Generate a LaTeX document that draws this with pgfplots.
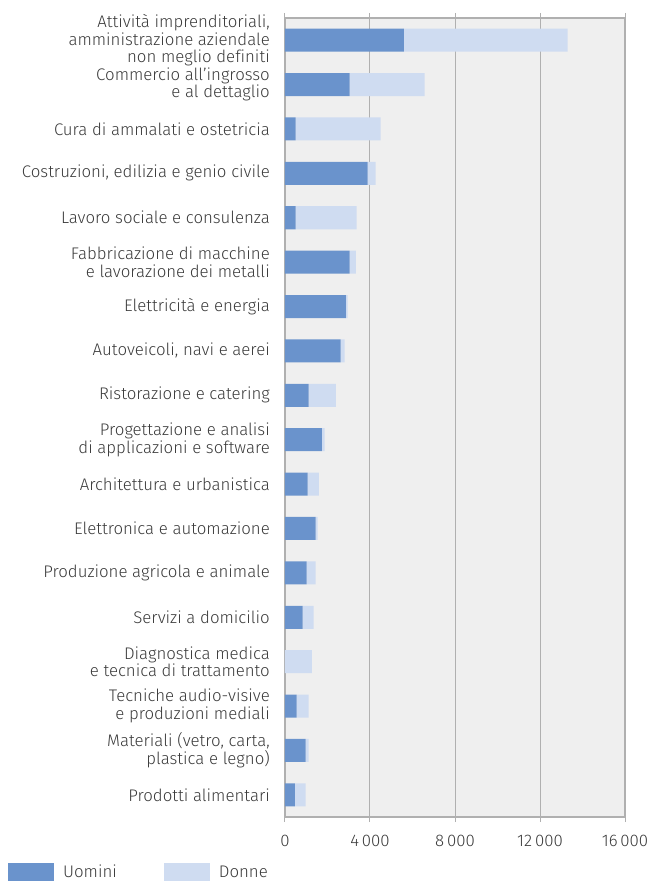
\documentclass[border=0pt]{standalone}
\usepackage{fontspec}
\setmainfont{Fira Sans Light}[Ligatures={NoCommon}]
\usepackage{pgfplots}
\pgfplotsset{compat=1.18}
\definecolor{uom}{HTML}{6A93CC}
\definecolor{don}{HTML}{CFDCF1}
\definecolor{bg}{HTML}{EFEFEF}
\definecolor{gridc}{HTML}{B0B0B0}
\definecolor{txt}{HTML}{3A3A3A}
\begin{document}
\begin{tikzpicture}
\begin{axis}[
  scale only axis, width=340pt, height=799pt,
  xbar stacked, bar width=23pt,
  xmin=0, xmax=16000, ymin=-0.5, ymax=17.5, y dir=reverse,
  xtick={0,4000,8000,12000,16000},
  ytick={0,...,17},
  yticklabels={
    {Attività imprenditoriali,\\amministrazione aziendale\\non meglio definiti},
    {Commercio all'ingrosso\\e al dettaglio},
    {Cura di ammalati e ostetricia},
    {Costruzioni, edilizia e genio civile},
    {Lavoro sociale e consulenza},
    {Fabbricazione di macchine\\e lavorazione dei metalli},
    {Elettricità e energia},
    {Autoveicoli, navi e aerei},
    {Ristorazione e catering},
    {Progettazione e analisi\\di applicazioni e software},
    {Architettura e urbanistica},
    {Elettronica e automazione},
    {Produzione agricola e animale},
    {Servizi a domicilio},
    {Diagnostica medica\\e tecnica di trattamento},
    {Tecniche audio-visive\\e produzioni mediali},
    {Materiali (vetro, carta,\\plastica e legno)},
    {Prodotti alimentari}},
  xmajorgrids, grid style={gridc, line width=1pt},
  axis line style={gridc, line width=1.2pt},
  axis background/.style={fill=bg},
  tick align=outside, major tick length=5pt,
  xtick style={gridc, line width=1pt},
  ytick style={draw=none},
  ticklabel style={font=\fontsize{16.8}{17.5}\selectfont, text=txt},
  xticklabel style={/pgf/number format/1000 sep={\,}, /pgf/number format/assume math mode=true, yshift=-10pt},
  yticklabel style={align=right, inner sep=0pt, xshift=-10pt},
  scaled x ticks=false,
  legend style={at={(axis description cs:-0.8147,-0.0575)}, anchor=north west,
    draw=none, fill=none, inner sep=0pt, font=\fontsize{16.8}{17.5}\selectfont, text=txt,
    legend columns=2,
    /tikz/every odd column/.style={column sep=7pt},
    /tikz/column 2/.style={column sep=45pt}},
  legend image code/.code={\fill[#1] (0pt,-9pt) rectangle (46pt,9pt);},
]
\addplot[fill=uom, draw=none] coordinates {
(5590,0) (3040,1) (500,2) (3890,3) (500,4) (3040,5) (2860,6) (2620,7) (1110,8)
(1730,9) (1070,10) (1440,11) (1020,12) (830,13) (0,14) (550,15) (970,16) (460,17)};
\addlegendentry{Uomini}
\addplot[fill=don, draw=none] coordinates {
(7710,0) (3530,1) (4000,2) (380,3) (2870,4) (290,5) (90,6) (190,7) (1280,8)
(140,9) (520,10) (100,11) (420,12) (520,13) (1260,14) (560,15) (140,16) (510,17)};
\addlegendentry{Donne}
\end{axis}
\pgfresetboundingbox
\path[use as bounding box] ([shift={(-285pt,-65pt)}]current axis.south west) rectangle ([shift={(26pt,18pt)}]current axis.north east);
\end{tikzpicture}
\end{document}
